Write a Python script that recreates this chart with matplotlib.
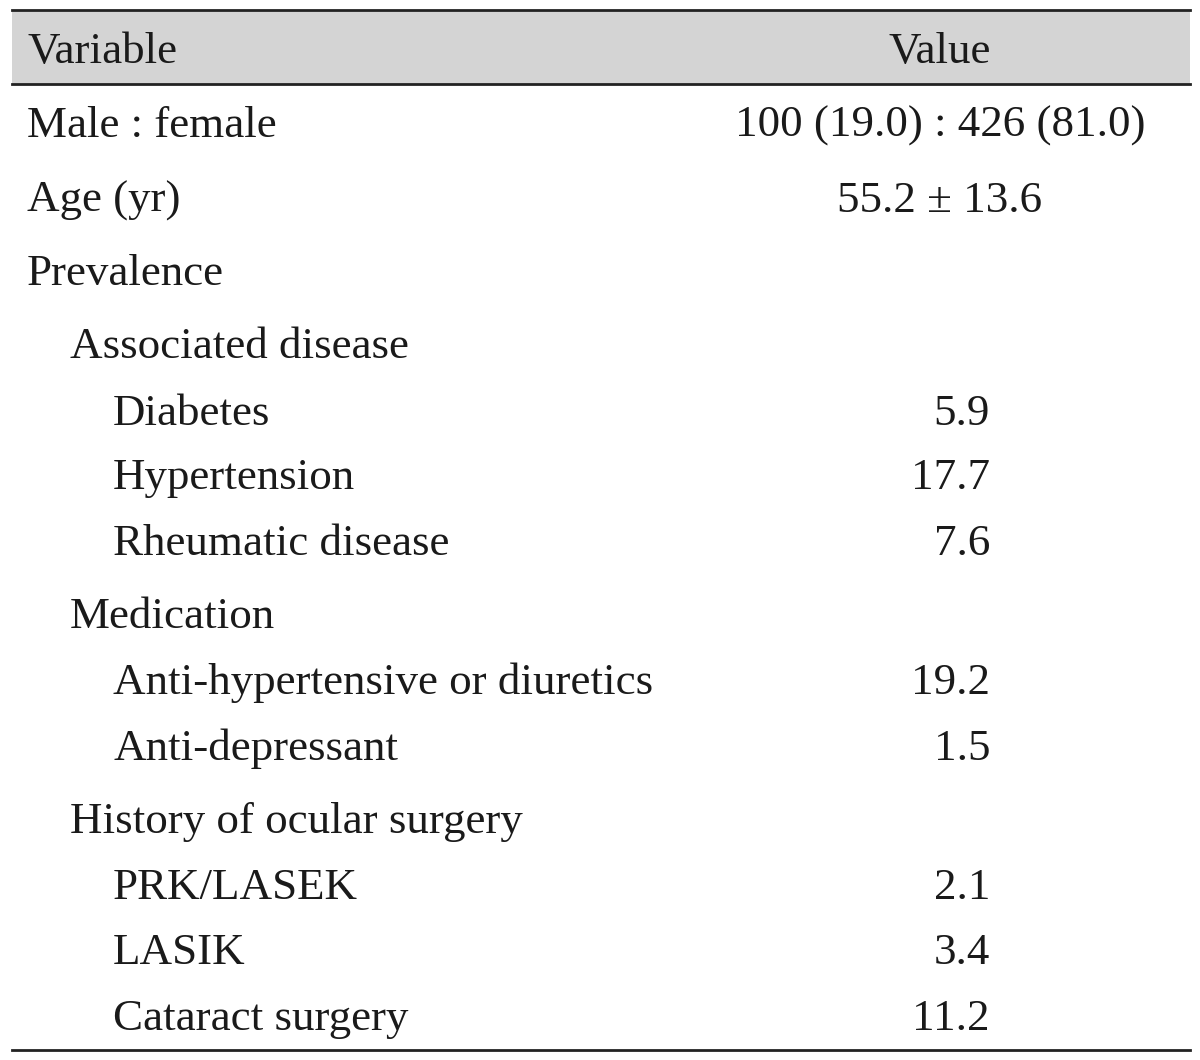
import matplotlib.pyplot as plt
from matplotlib.patches import Rectangle

plt.rcParams['font.family'] = ['Liberation Serif', 'DejaVu Serif']

# table content
header = ['Variable', 'Value']
labels = ['Male : female', 'Age (yr)', 'Prevalence',
          'Associated disease', 'Diabetes', 'Hypertension', 'Rheumatic disease',
          'Medication', 'Anti-hypertensive or diuretics', 'Anti-depressant',
          'History of ocular surgery', 'PRK/LASEK', 'LASIK', 'Cataract surgery']
levels = [0, 0, 0, 1, 2, 2, 2, 1, 2, 2, 1, 2, 2, 2]
values = ['100 (19.0) : 426 (81.0)', '55.2 \u00b1 13.6', '',
          '', '5.9', '17.7', '7.6',
          '', '19.2', '1.5',
          '', '2.1', '3.4', '11.2']
centered = [True, True, False, False, False, False, False,
            False, False, False, False, False, False, False]
baselines = [137, 212, 285, 358, 425, 489, 555, 628, 694, 760, 833, 899, 964, 1030]

W, H = 1200, 1060
fig = plt.figure(figsize=(W / 100, H / 100), dpi=100)
ax = fig.add_axes([0, 0, 1, 1])
ax.set_xlim(0, W)
ax.set_ylim(H, 0)
ax.axis('off')

x0, x1 = 12, 1190
fs = 32.4

# header band and rules
ax.add_patch(Rectangle((x0, 10), x1 - x0, 74, facecolor='#d4d4d4', edgecolor='none'))
ax.plot([x0, x1], [10, 10], color='#222222', lw=2)
ax.plot([x0, x1], [84, 84], color='#222222', lw=2)
ax.plot([x0, x1], [1050, 1050], color='#222222', lw=2)

ax.text(27, 63, header[0], fontsize=fs, va='baseline', ha='left', color='#1a1a1a')
ax.text(940, 63, header[1], fontsize=fs, va='baseline', ha='center', color='#1a1a1a')

for lab, lv, val, c, y in zip(labels, levels, values, centered, baselines):
    ax.text(27 + 43 * lv, y, lab, fontsize=fs, va='baseline', ha='left', color='#1a1a1a')
    if val:
        if c:
            ax.text(940, y, val, fontsize=fs, va='baseline', ha='center', color='#1a1a1a')
        else:
            ax.text(990, y, val, fontsize=fs, va='baseline', ha='right', color='#1a1a1a')

fig.savefig('out.png', dpi=100)
